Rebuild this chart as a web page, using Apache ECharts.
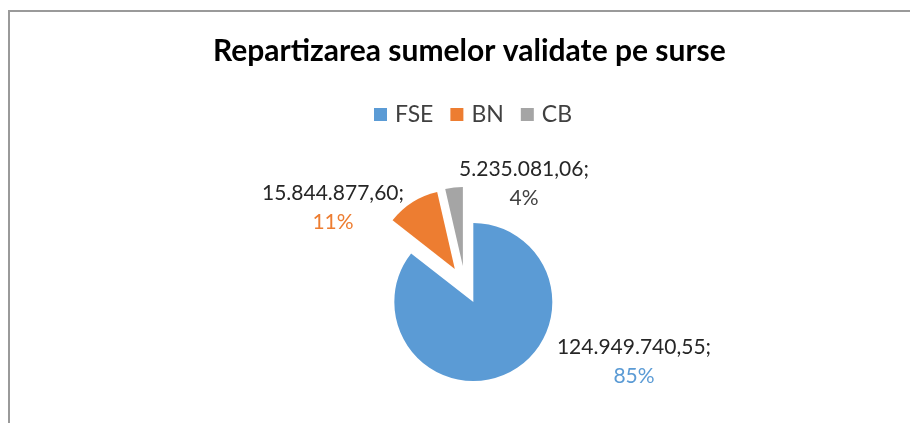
<!DOCTYPE html>
<html>
<head>
<meta charset="utf-8">
<script src="https://cdn.jsdelivr.net/npm/echarts@6/dist/echarts.min.js"></script>
<style>
  html, body { margin: 0; padding: 0; background: #fff; }
  #chart { width: 910px; height: 423px; }
  .frame {
    position: absolute; left: 8px; top: 10px; right: 0; bottom: 0;
    border-top: 2px solid #9a9a9a; border-left: 2px solid #9a9a9a;
    pointer-events: none;
  }
</style>
</head>
<body>
<div id="chart"></div>
<div class="frame"></div>
<script>
const categories = ['FSE', 'BN', 'CB']
const values = [124949740.55, 15844877.60, 5235081.06]
const colors = ['#5B9BD5', '#ED7D31', '#A5A5A5']
const percentColors = ['#5B9BD5', '#ED7D31', '#404040']

// Romanian number format: 124.949.740,55
function formatRo(v) {
  const parts = v.toFixed(2).split('.')
  const int = parts[0].replace(/\B(?=(\d{3})+(?!\d))/g, '.')
  return int + ',' + parts[1]
}

// where Excel put each data label (block centre)
const labelSpots = [[634, 362], [333, 208], [524, 184]]

const chart = echarts.init(document.getElementById('chart'))

const rich = {
  v: { fontFamily: 'Lato', fontSize: 21, color: '#262626', lineHeight: 29 }
}
percentColors.forEach((c, i) => {
  rich['p' + i] = { fontFamily: 'Lato', fontSize: 21, color: c, lineHeight: 29 }
})

const pieCenter = [465, 285]
const pieRadius = 79

const option = {
  animation: false,
  color: colors,
  title: {
    text: 'Repartizarea sumelor validate pe surse',
    left: 208,
    top: 31,
    textStyle: {
      fontFamily: 'Lato',
      fontSize: 30,
      fontWeight: 'bold',
      color: '#000'
    }
  },
  legend: {
    data: categories,
    top: 98,
    left: 369,
    icon: 'rect',
    itemWidth: 13,
    itemHeight: 13,
    itemGap: 17,
    textStyle: { fontFamily: 'Lato', fontSize: 23, color: '#404040', padding: [0, 0, 0, 3] }
  },
  series: [{
    // exploded slices
    type: 'pie',
    center: pieCenter,
    radius: pieRadius,
    startAngle: 90,
    clockwise: true,
    selectedMode: 'multiple',
    selectedOffset: 19,
    emphasis: { disabled: true },
    label: { show: false },
    labelLine: { show: false },
    data: categories.map((name, i) => ({ name: name, value: values[i], selected: true }))
  }, {
    // same data, only carries the data labels
    type: 'pie',
    center: pieCenter,
    radius: pieRadius,
    startAngle: 90,
    silent: true,
    percentPrecision: 0,
    itemStyle: { color: 'rgba(0,0,0,0)' },
    emphasis: { disabled: true },
    label: {
      show: true,
      position: 'outside',
      formatter: p => '{v|' + formatRo(p.value) + ';}\n{p' + p.dataIndex + '|' + p.percent + '%}',
      rich: rich,
      align: 'center'
    },
    labelLine: { show: false },
    labelLayout: params => ({
      x: labelSpots[params.dataIndex][0],
      y: labelSpots[params.dataIndex][1],
      align: 'center',
      verticalAlign: 'middle'
    }),
    data: categories.map((name, i) => ({ name: name, value: values[i] }))
  }]
}

chart.setOption(option)
</script>
</body>
</html>
